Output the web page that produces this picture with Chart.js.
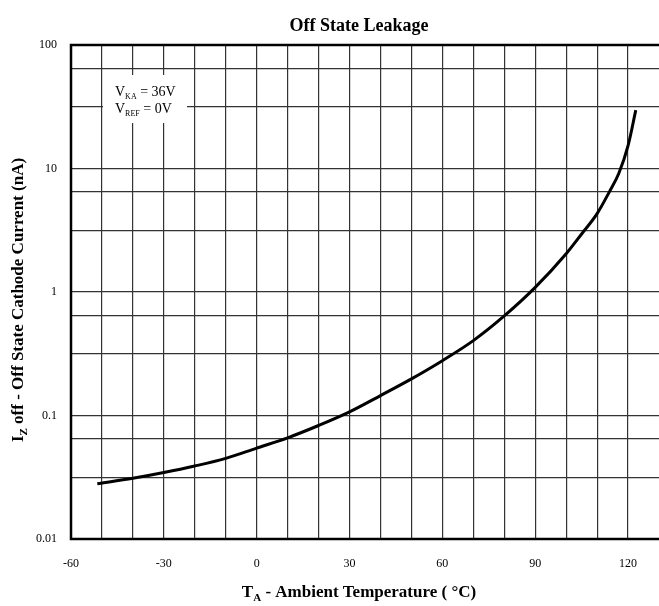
<!DOCTYPE html>
<html>
<head>
<meta charset="utf-8">
<script src="https://cdn.jsdelivr.net/npm/chart.js@4.4.1/dist/chart.umd.min.js"></script>
<style>
  html, body { margin: 0; padding: 0; background: #fff; }
  #wrap { width: 659px; height: 606px; }
</style>
</head>
<body>
<div id="wrap"><canvas id="leak" width="659" height="606"></canvas></div>
<script>
// curve
const tempC = [-51.5, -40, -30, -20, -10, 0, 10, 20, 30, 40, 50, 60, 70, 80, 90, 100, 105, 110, 114, 117, 120, 122.5];
const leakNA = [0.028, 0.031, 0.0345, 0.039, 0.045, 0.0545, 0.066, 0.083, 0.107, 0.145, 0.198, 0.278, 0.404, 0.64, 1.09, 2.04, 2.95, 4.31, 6.5, 9.1, 15.3, 29.7];

// tick labels
const tempLabels = [-60, -30, 0, 30, 60, 90, 120];
const currentLabels = [0.01, 0.1, 1, 10, 100];
// vertical grid every 10 degrees (edge at 130 is cut off in the picture)
const tempGrid = [-60, -50, -40, -30, -20, -10, 0, 10, 20, 30, 40, 50, 60, 70, 80, 90, 100, 110, 120];
// horizontal grid (decades, half decade, ~0.81 decade)
const currentGrid = [0.01, 0.0316, 0.0646, 0.1, 0.316, 0.646, 1, 3.16, 6.46, 10, 31.6, 64.6, 100];

const serif = "'Liberation Serif', 'Times New Roman', serif";

// frame, titles and the condition box
const extras = {
  id: 'extras',
  beforeDatasetsDraw(chart) {
    const ctx = chart.ctx;
    const a = chart.chartArea;
    // condition box covers the grid
    ctx.save();
    ctx.fillStyle = '#fff';
    ctx.fillRect(a.left + 32, a.top + 30, 84, 48);
    ctx.fillStyle = '#000';
    const x0 = a.left + 44;
    const rows = [[a.top + 51, 'KA', ' = 36V'], [a.top + 68, 'REF', ' = 0V']];
    rows.forEach(r => {
      ctx.font = '14px ' + serif;
      ctx.fillText('V', x0, r[0]);
      let w = ctx.measureText('V').width;
      ctx.font = '8px ' + serif;
      ctx.fillText(r[1], x0 + w, r[0] + 3);
      w += ctx.measureText(r[1]).width;
      ctx.font = '14px ' + serif;
      ctx.fillText(r[2], x0 + w, r[0]);
    });
    ctx.restore();
  },
  afterDraw(chart) {
    const ctx = chart.ctx;
    const a = chart.chartArea;
    ctx.save();
    // frame: top, left, bottom
    ctx.strokeStyle = '#000';
    ctx.lineWidth = 2.5;
    ctx.beginPath();
    ctx.moveTo(a.right + 2, a.top);
    ctx.lineTo(a.left, a.top);
    ctx.lineTo(a.left, a.bottom);
    ctx.lineTo(a.right + 2, a.bottom);
    ctx.stroke();

    const cx = (a.left + a.right) / 2;
    ctx.fillStyle = '#000';
    ctx.textBaseline = 'alphabetic';

    // main title
    ctx.font = 'bold 18px ' + serif;
    ctx.textAlign = 'center';
    ctx.fillText('Off State Leakage', cx - 6, 31);

    // x title with subscript
    ctx.textAlign = 'left';
    const big = 'bold 17px ' + serif, small = 'bold 11px ' + serif;
    ctx.font = big;
    const p1 = ctx.measureText('T').width;
    const rest = ' - Ambient Temperature ( \u00B0C)';
    const p3 = ctx.measureText(rest).width;
    ctx.font = small;
    const p2 = ctx.measureText('A').width;
    let x = cx - 6 - (p1 + p2 + p3) / 2;
    const yb = 597;
    ctx.font = big; ctx.fillText('T', x, yb);
    ctx.font = small; ctx.fillText('A', x + p1, yb + 4);
    ctx.font = big; ctx.fillText(rest, x + p1 + p2, yb);

    // y title, rotated, with subscript
    ctx.translate(23, 300);
    ctx.rotate(-Math.PI / 2);
    ctx.font = big;
    const q1 = ctx.measureText('I').width;
    const yrest = ' off - Off State Cathode Current (nA)';
    const q3 = ctx.measureText(yrest).width;
    ctx.font = small;
    const q2 = ctx.measureText('Z').width;
    x = -(q1 + q2 + q3) / 2;
    ctx.font = big; ctx.fillText('I', x, 0);
    ctx.font = small; ctx.fillText('Z', x + q1, 4);
    ctx.font = big; ctx.fillText(yrest, x + q1 + q2, 0);
    ctx.restore();
  }
};

const points = tempC.map((t, i) => ({ x: t, y: leakNA[i] }));

const leakCtx = document.getElementById('leak').getContext('2d');
const leakChart = new Chart(leakCtx, {
  type: 'line',
  data: {
    datasets: [{
      data: points,
      borderColor: '#000',
      borderWidth: 3,
      pointRadius: 0,
      cubicInterpolationMode: 'monotone',
      fill: false
    }]
  },
  options: {
    responsive: false,
    animation: false,
    events: [],
    layout: { padding: { top: 45, right: 0, left: 0, bottom: 0 } },
    plugins: {
      legend: { display: false },
      title: { display: false },
      tooltip: { enabled: false }
    },
    scales: {
      x: {
        type: 'linear',
        min: -60,
        max: 130,
        afterFit(s) { s.height = 67; s.paddingLeft = 0; s.paddingRight = 0; },
        afterBuildTicks(s) { s.ticks = tempGrid.map(v => ({ value: v })); },
        border: { display: false },
        grid: { color: '#333', lineWidth: 1.2, drawTicks: false },
        ticks: {
          padding: 18,
          maxRotation: 0,
          autoSkip: false,
          color: '#000',
          font: { family: serif, size: 12 },
          callback: v => tempLabels.includes(v) ? String(v) : ''
        }
      },
      y: {
        type: 'logarithmic',
        min: 0.01,
        max: 100,
        afterFit(s) { s.width = 71; s.paddingTop = 0; s.paddingBottom = 0; },
        afterBuildTicks(s) { s.ticks = currentGrid.map(v => ({ value: v })); },
        border: { display: false },
        grid: { color: '#333', lineWidth: 1.2, drawTicks: false },
        ticks: {
          padding: 14,
          autoSkip: false,
          color: '#000',
          font: { family: serif, size: 12 },
          callback: v => currentLabels.includes(v) ? String(v) : ''
        }
      }
    }
  },
  plugins: [extras]
});
</script>
</body>
</html>
